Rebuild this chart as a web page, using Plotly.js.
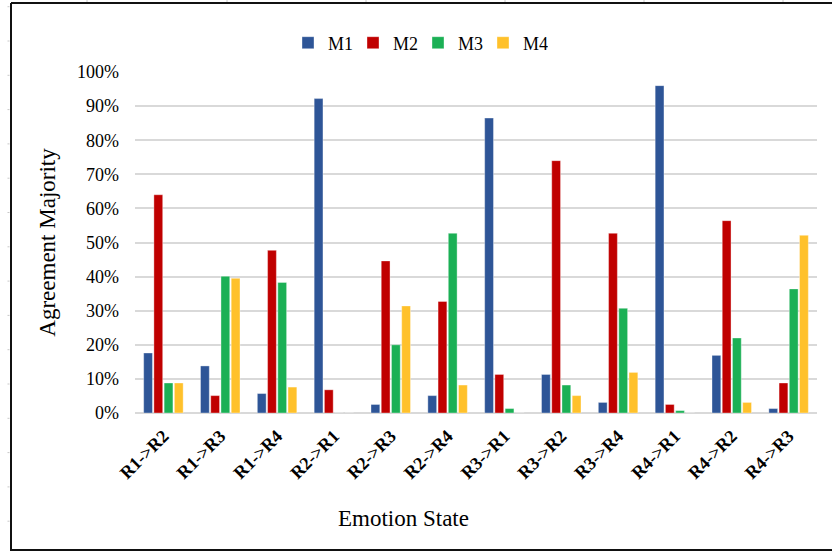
<!DOCTYPE html>
<html>
<head>
<meta charset="utf-8">
<script src="https://cdn.plot.ly/plotly-3.0.1.min.js"></script>
<style>html,body{margin:0;padding:0;background:#fff;}#chart{width:832px;height:552px;}</style>
</head>
<body>
<div id="chart"></div>
<script>
const categories = ["R1->R2","R1->R3","R1->R4","R2->R1","R2->R3","R2->R4","R3->R1","R3->R2","R3->R4","R4->R1","R4->R2","R4->R3"];
const seriesNames = ["M1","M2","M3","M4"];
const m1 = [0.176,0.138,0.057,0.922,0.025,0.051,0.865,0.113,0.031,0.960,0.169,0.013];
const m2 = [0.640,0.051,0.477,0.068,0.446,0.327,0.113,0.740,0.527,0.025,0.564,0.088];
const m3 = [0.088,0.401,0.383,0.000,0.200,0.527,0.013,0.082,0.307,0.007,0.220,0.364];
const m4 = [0.088,0.395,0.076,0.000,0.314,0.082,0.000,0.051,0.119,0.000,0.031,0.521];
const colors = ["#2E5597","#C00000","#1BB055","#FFC12B"];

const W = 832, H = 552, ML = 135, MR = 15, MT = 72, MB = 139;
const PW = W - ML - MR, PH = H - MT - MB;
const px = x => (x - ML) / PW;
const py = y => (H - MB - y) / PH;

const font = "Liberation Serif, Times New Roman, serif";
const data = [m1, m2, m3, m4].map((vals, i) => ({
  type: "bar",
  name: seriesNames[i],
  x: categories,
  y: vals,
  marker: {color: colors[i], line: {color: "rgba(255,255,255,0.6)", width: 0.6}},
  hoverinfo: "skip"
}));

const shapes = [];
// outer frame
const frame = {color: "#111", width: 2};
shapes.push({type: "line", xref: "paper", yref: "paper", x0: px(11), x1: px(11), y0: py(3), y1: py(551), line: frame});
shapes.push({type: "line", xref: "paper", yref: "paper", x0: px(11), x1: px(834), y0: py(3), y1: py(3), line: frame});
shapes.push({type: "line", xref: "paper", yref: "paper", x0: px(11), x1: px(834), y0: py(550), y1: py(550), line: frame});
// faint sheet-grid marks outside the frame
[87, 227, 366, 505, 644, 783].forEach(x => shapes.push({type: "line", xref: "paper", yref: "paper", x0: px(x), x1: px(x), y0: py(0), y1: py(2), line: {color: "#c8c8c8", width: 1}}));
for (let k = 0; k < 16; k++) {
  const y = 6.7 + 34.3 * k;
  shapes.push({type: "line", xref: "paper", yref: "paper", x0: px(7.5), x1: px(9.5), y0: py(y), y1: py(y), line: {color: "#c8c8c8", width: 1}});
}

const layout = {
  width: W, height: H,
  margin: {l: ML, r: MR, t: MT, b: MB},
  paper_bgcolor: "#fff", plot_bgcolor: "#fff",
  font: {family: font, color: "#000", size: 18},
  barmode: "group",
  bargap: 0.28,
  bargroupgap: 0.14,
  showlegend: true,
  legend: {orientation: "h", x: px(418), xanchor: "center", y: py(43), yanchor: "middle",
           font: {family: font, size: 18, color: "#000"}, itemwidth: 30,
           entrywidth: 20, entrywidthmode: "pixels",
           tracegroupgap: 0, bgcolor: "rgba(0,0,0,0)"},
  xaxis: {
    type: "category",
    tickangle: -45,
    tickfont: {family: font, size: 18, color: "#000", weight: "bold"},
    showgrid: false, zeroline: false, showline: false, ticks: "",
    ticklabelstandoff: 8,
    fixedrange: true
  },
  yaxis: {
    range: [0, 1],
    dtick: 0.1,
    tickformat: ".0%",
    tickfont: {family: font, size: 18, color: "#000"},
    showgrid: true, gridcolor: "#d9d9d9", gridwidth: 2,
    zeroline: true, zerolinecolor: "#d9d9d9", zerolinewidth: 2,
    showline: false, ticks: "", ticklabelstandoff: 15,
    title: {text: "Agreement Majority", font: {family: font, size: 23, color: "#000"}, standoff: 14},
    fixedrange: true
  },
  annotations: [{
    text: "Emotion State", xref: "paper", yref: "paper",
    x: px(403), y: py(518), xanchor: "center", yanchor: "middle",
    showarrow: false, font: {family: font, size: 23, color: "#000"}
  }],
  shapes: shapes
};

Plotly.newPlot("chart", data, layout, {displayModeBar: false, staticPlot: true});
</script>
</body>
</html>
